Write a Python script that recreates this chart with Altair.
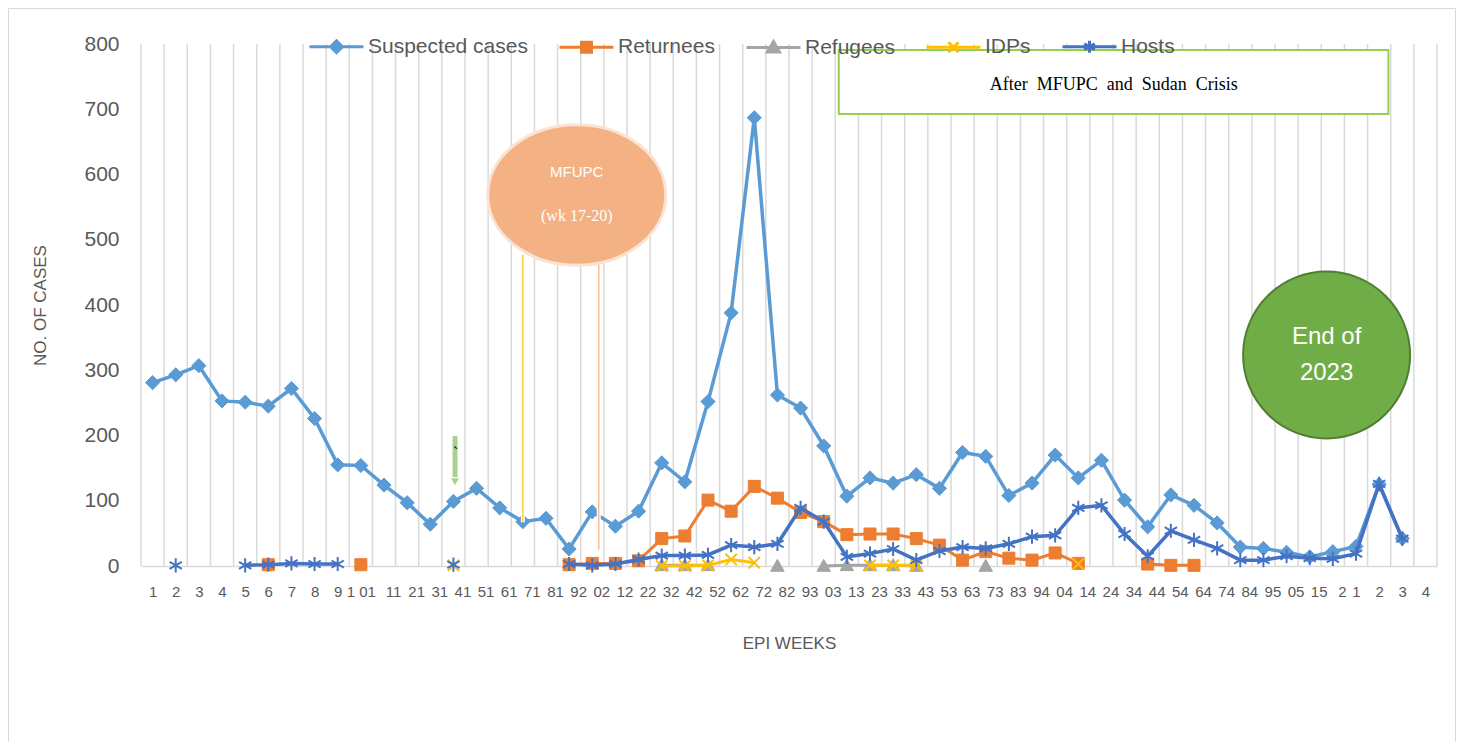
import json
import altair as alt
import pandas as pd

# ---------------- data ----------------
week_labels = ["1", "2", "3", "4", "5", "6", "7", "8", "9", "1 01",
               "11", "21", "31", "41", "51", "61", "71", "81", "92", "02",
               "12", "22", "32", "42", "52", "62", "72", "82", "93", "03",
               "13", "23", "33", "43", "53", "63", "73", "83", "94", "04",
               "14", "24", "34", "44", "54", "64", "74", "84", "95", "05",
               "15", "2", "1", "2", "3", "4"]

series_names = ["Suspected cases", "Returnees", "Refugees", "IDPs", "Hosts"]
series_colors = ["#5b9bd5", "#ed7d31", "#a5a5a5", "#ffc000", "#4472c4"]

suspected = [281, 293, 307, 253, 251, 245, 272, 226, 155, 154,
             124, 97, 64, 99, 119, 89, 68, 73, 26, 83,
             61, 84, 158, 129, 252, 388, 687, 262, 242, 184,
             107, 135, 127, 140, 119, 174, 168, 108, 127, 170,
             135, 162, 101, 60, 109, 93, 66, 29, 27, 21,
             14, 22, 30, 125, 42]
returnees = [None, None, None, None, None, 2, None, None, None, 2,
             None, None, None, None, None, None, None, None, 2, 4,
             4, 8, 42, 46, 101, 84, 122, 104, 82, 68,
             48, 49, 49, 42, 32, 9, 22, 12, 9, 20,
             4, None, None, 3, 1, 1, None, None, None, None,
             None, None, None, None, None]
refugees = [None, None, None, None, None, None, None, None, None, None,
            None, None, None, None, None, None, None, None, None, None,
            None, None, 1, 1, 1, None, None, 0, None, 0,
            1, 1, 1, 0, None, None, 0, None, None, None,
            None, None, None, None, None, None, None, None, None, None,
            None, None, None, None, None]
idps = [None, None, None, None, None, None, None, None, None, None,
        None, None, None, 1, None, None, None, None, None, None,
        None, None, 0, 0, 1, 10, 5, None, None, None,
        None, 1, 1, 1, None, None, None, None, None, None,
        3, None, None, None, None, None, None, None, None, None,
        None, None, None, None, None]
hosts = [None, 1, None, None, 1, 2, 4, 3, 3, None,
         None, None, None, 2, None, None, None, None, 3, 1,
         3, 10, 16, 16, 17, 32, 29, 34, 89, 68,
         14, 19, 26, 9, 23, 29, 27, 34, 45, 47,
         89, 93, 49, 15, 54, 40, 27, 9, 9, 15,
         12, 11, 19, 126, 42]

series_values = [suspected, returnees, refugees, idps, hosts]

rows = []
for name, vals in zip(series_names, series_values):
    for i, v in enumerate(vals):
        rows.append({"week": i + 1, "series": name, "cases": v})
df = pd.DataFrame(rows)

n_cat = len(week_labels)
grid_edges = [i + 0.5 for i in range(n_cat + 1)]

# ---------------- styles ----------------
FONT = "Liberation Sans"
SERIF = "Liberation Serif"
TXT = "#595959"
GRID = "#d9d9d9"

marker_paths = [
    "M0,-1L1,0L0,1L-1,0Z",                                   # diamond
    "M-0.85,-0.85L0.85,-0.85L0.85,0.85L-0.85,0.85Z",         # square
    "M0,-0.95L0.95,0.75L-0.95,0.75Z",                        # triangle
    "M-0.8,-0.8L0.8,0.8M0.8,-0.8L-0.8,0.8",                  # x
    "M0,-1L0,1M-0.87,-0.5L0.87,0.5M-0.87,0.5L0.87,-0.5",     # asterisk
]
marker_filled = [True, True, True, False, False]
line_widths = [3.5, 3, 3, 3, 3.5]

legend_paths = [
    "M-2.7,0L2.7,0M0,-0.6L0.6,0L0,0.6L-0.6,0Z",
    "M-2.7,0L2.7,0M-0.5,-0.5L0.5,-0.5L0.5,0.5L-0.5,0.5Z",
    "M-2.7,0L2.7,0M0,-0.6L0.6,0.45L-0.6,0.45Z",
    "M-2.7,0L2.7,0M-0.5,-0.5L0.5,0.5M0.5,-0.5L-0.5,0.5",
    "M-2.7,0L2.7,0M0,-0.6L0,0.6M-0.52,-0.3L0.52,0.3M-0.52,0.3L0.52,-0.3",
]

x_scale = alt.Scale(domain=[0.5, n_cat + 0.5], nice=False, zero=False)
y_scale = alt.Scale(domain=[0, 800], nice=False)

label_expr = json.dumps(week_labels) + "[datum.value - 1]"

x_axis = alt.Axis(
    values=list(range(1, n_cat + 1)), labelExpr=label_expr, grid=False, ticks=False,
    domain=True, domainColor=GRID, domainWidth=1.5,
    labelFontSize=15, labelColor=TXT, labelFont=FONT, labelPadding=18,
    labelOverlap=False, labelFlush=False,
    labelOffset={"condition": {"test": "datum.value >= 11 && datum.value <= 52", "value": 9}, "value": 0},
    title="EPI WEEKS", titleFontSize=17, titleFontWeight="normal", titleColor=TXT,
    titleFont=FONT, titlePadding=36,
)
y_axis = alt.Axis(
    values=list(range(0, 801, 100)), grid=False, ticks=False, domain=False,
    labelFontSize=21, labelColor=TXT, labelFont=FONT, labelPadding=22,
    title="NO. OF CASES", titleFontSize=17, titleFontWeight="normal", titleColor=TXT,
    titleFont=FONT, titlePadding=34,
)


def X(field):
    return alt.X(field + ":Q", scale=x_scale, axis=x_axis)


def Y(field):
    return alt.Y(field + ":Q", scale=y_scale, axis=y_axis)


layers = []

# vertical category gridlines
layers.append(
    alt.Chart(pd.DataFrame({"edge": grid_edges}))
    .mark_rule(color=GRID, strokeWidth=1.5)
    .encode(x=X("edge"))
)

# data series
for k, name in enumerate(series_names):
    c = series_colors[k]
    base = alt.Chart(df).transform_filter(alt.datum.series == name)
    line = base.mark_line(color=c, strokeWidth=line_widths[k],
                          invalid="break-paths-show-domains").encode(x=X("week"), y=Y("cases"))
    pkw = dict(shape=marker_paths[k], size=200, stroke=c, opacity=1, strokeOpacity=1)
    if marker_filled[k]:
        pkw.update(fill=c, fillOpacity=1, strokeWidth=1)
    else:
        pkw.update(strokeWidth=2)
    pts = base.mark_point(**pkw).encode(x=X("week"), y=Y("cases"))
    layers.extend([line, pts])


# ---------------- annotations ----------------
def ann(d):
    return alt.Chart(pd.DataFrame(d))


# vertical lines near MFUPC bubble (white halo + thin coloured line)
vlines = {"x": [17.0, 20.28], "y": [67, 25], "y2": [477, 466], "c": ["#ffc000", "#f4b183"]}
layers.append(ann(vlines).mark_rule(color="white", strokeWidth=4).encode(x=X("x"), y=Y("y"), y2="y2:Q"))
for i in range(2):
    layers.append(
        ann({"x": [vlines["x"][i]], "y": [vlines["y"][i]], "y2": [vlines["y2"][i]]})
        .mark_rule(color=vlines["c"][i], strokeWidth=1.2)
        .encode(x=X("x"), y=Y("y"), y2="y2:Q")
    )

# MFUPC ellipse
ellipse = ("M-1,0C-1,-0.436 -0.552,-0.79 0,-0.79C0.552,-0.79 1,-0.436 1,0"
           "C1,0.436 0.552,0.79 0,0.79C-0.552,0.79 -1,0.436 -1,0Z")
layers.append(
    ann({"x": [19.33], "y": [568.6]})
    .mark_point(shape=ellipse, size=31684, fill="#f4b183", fillOpacity=1, stroke="#fbe3d4",
                strokeWidth=3, opacity=1)
    .encode(x=X("x"), y=Y("y"))
)
layers.append(
    ann({"x": [19.33], "y": [603.8], "t": ["MFUPC"]})
    .mark_text(font=FONT, fontSize=15, color="white")
    .encode(x=X("x"), y=Y("y"), text="t:N")
)
layers.append(
    ann({"x": [19.33], "y": [536.4], "t": ["(wk 17-20)"]})
    .mark_text(font=SERIF, fontSize=16, color="white")
    .encode(x=X("x"), y=Y("y"), text="t:N")
)

# green arrow
layers.append(
    ann({"x": [14.07], "y": [199], "y2": [136]})
    .mark_rule(color="#a9d18e", strokeWidth=5)
    .encode(x=X("x"), y=Y("y"), y2="y2:Q")
)
layers.append(
    ann({"x": [14.07], "y": [129]})
    .mark_point(shape="triangle-down", size=90, fill="#a9d18e", fillOpacity=1, stroke="white",
                strokeWidth=1, opacity=1)
    .encode(x=X("x"), y=Y("y"))
)
layers.append(
    ann({"x": [14.1], "y": [172], "t": ["`"]})
    .mark_text(font=FONT, fontSize=16, color="black")
    .encode(x=X("x"), y=Y("y"), text="t:N")
)

# "After MFUPC and Sudan Crisis" box
layers.append(
    ann({"x": [30.65], "x2": [54.4], "y": [790.8], "y2": [692.7]})
    .mark_rect(fill="white", stroke="#92d050", strokeWidth=2)
    .encode(x=X("x"), x2="x2:Q", y=Y("y"), y2="y2:Q")
)
layers.append(
    ann({"x": [42.53], "y": [737], "t": ["After\u00a0 MFUPC\u00a0 and\u00a0 Sudan\u00a0 Crisis"]})
    .mark_text(font=SERIF, fontSize=18, color="black")
    .encode(x=X("x"), y=Y("y"), text="t:N")
)

# "End of 2023" circle
layers.append(
    ann({"x": [51.73], "y": [323.4]})
    .mark_point(shape="circle", size=27889, fill="#70ad47", fillOpacity=1, stroke="#507e32",
                strokeWidth=2, opacity=1)
    .encode(x=X("x"), y=Y("y"))
)
layers.append(
    ann({"x": [51.73, 51.73], "y": [351, 296], "t": ["End of", "2023"]})
    .mark_text(font=FONT, fontSize=24, color="white")
    .encode(x=X("x"), y=Y("y"), text="t:N")
)

# outer chart frame
dummy = {"k": [0]}
layers.append(ann(dummy).mark_rule(color=GRID, strokeWidth=1)
              .encode(x=alt.value(-132.5), y=alt.value(-35.5), y2=alt.value(720)))
layers.append(ann(dummy).mark_rule(color=GRID, strokeWidth=1)
              .encode(x=alt.value(1314.5), y=alt.value(-35.5), y2=alt.value(720)))
layers.append(ann(dummy).mark_rule(color=GRID, strokeWidth=1)
              .encode(x=alt.value(-132.5), x2=alt.value(1314.5), y=alt.value(-35.5)))

# legend (built by the library from explicit scale domains)
leg = alt.Legend(
    title=None, orient="none", direction="horizontal", legendX=184, legendY=-9,
    symbolSize=400, symbolStrokeWidth=3, labelFontSize=21, labelColor=TXT, labelFont=FONT,
    labelOffset=20, columnPadding=25, padding=0,
)
layers.append(
    alt.Chart(df).transform_filter("false")
    .mark_point(opacity=1, strokeWidth=3)
    .encode(
        x=X("week"),
        y=Y("cases"),
        color=alt.Color("series:N", scale=alt.Scale(domain=series_names, range=series_colors), legend=leg),
        fill=alt.Fill("series:N", scale=alt.Scale(domain=series_names, range=series_colors), legend=leg),
        shape=alt.Shape("series:N", scale=alt.Scale(domain=series_names, range=legend_paths), legend=leg),
    )
)

chart = (
    alt.layer(*layers)
    .properties(
        width=1296, height=522,
        padding={"left": 133, "top": 36, "right": 20, "bottom": 176},
        autosize=alt.AutoSizeParams(type="none"),
    )
    .configure(font=FONT)
    .configure_view(strokeWidth=0)
)

chart.save("out.html", embed_options={"renderer": "svg", "actions": False})
